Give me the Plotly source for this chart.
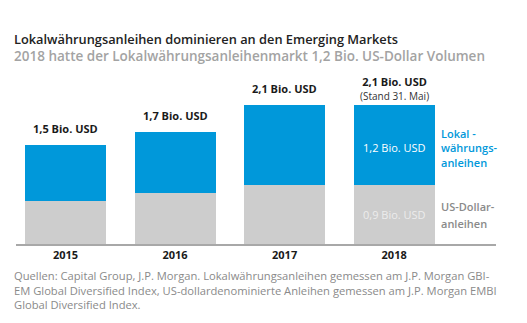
import plotly.graph_objects as go

years = ["2015", "2016", "2017", "2018"]
usd_bonds = [0.65, 0.78, 0.90, 0.90]
local_bonds = [0.85, 0.92, 1.20, 1.20]
total_labels = ["1,5 Bio. USD", "1,7 Bio. USD", "2,1 Bio. USD", "2,1 Bio. USD"]
last_note = "(Stand 31. Mai)"
local_inside_label = "1,2 Bio. USD"
usd_inside_label = "0,9 Bio. USD"
local_legend = ["Lokal -", "währungs-", "anleihen"]
usd_legend = ["US-Dollar-", "anleihen"]

BLUE = "#0098da"
GREY = "#cdcdcd"
FONT = "Open Sans"

W, H = 527, 323
L, R, T, B = 16, 31, 79, 79
pw, ph = W - L - R, H - T - B


def px(x):
    return (x - L) / pw


def py(y):
    return (H - B - y) / ph


xs = list(range(len(years)))
fig = go.Figure()
fig.add_trace(go.Bar(x=xs, y=usd_bonds, marker_color=GREY, width=0.74, marker_line_width=0,
                     hoverinfo="skip"))
fig.add_trace(go.Bar(x=xs, y=local_bonds, marker_color=BLUE, width=0.74, marker_line_width=0,
                     hoverinfo="skip"))

ann = []
# totals above bars
for i, lab in enumerate(total_labels):
    tot = usd_bonds[i] + local_bonds[i]
    txt = "<b>" + lab + "</b>"
    if i == len(total_labels) - 1:
        txt += "<br><span style='font-size:10px;color:#333333'>" + last_note + "</span>"
    ann.append(dict(x=i, y=tot, xref="x", yref="y", text=txt, showarrow=False,
                    yanchor="bottom", yshift=(0 if i == 3 else 7),
                    font=dict(family=FONT, size=11, color="#1a1a1a")))
# inside labels for last bar
ann.append(dict(x=3, y=usd_bonds[3] + local_bonds[3] / 2, xref="x", yref="y", text=local_inside_label,
                showarrow=False, yshift=-2, font=dict(family=FONT, size=11, color="white")))
ann.append(dict(x=3, y=usd_bonds[3] / 2, xref="x", yref="y", text=usd_inside_label,
                showarrow=False, font=dict(family=FONT, size=11, color="#ececec")))
# side legend labels
ann.append(dict(x=px(439), y=py(148), xref="paper", yref="paper", xanchor="left", align="left",
                yanchor="middle", text="<br>".join(local_legend), showarrow=False,
                font=dict(family=FONT, size=11, color=BLUE, weight=600)))
for j, t in enumerate(usd_legend):
    ann.append(dict(x=px(439), y=py(206 + 17 * j), xref="paper", yref="paper", xanchor="left",
                    yanchor="middle", text=t, showarrow=False,
                    font=dict(family=FONT, size=11, color="#8a8a8a", weight=600)))
# titles
ann.append(dict(x=px(12), y=py(39), xref="paper", yref="paper", xanchor="left", yanchor="middle",
                text="Lokalwährungsanleihen dominieren an den Emerging Markets", showarrow=False,
                font=dict(family=FONT, size=12.8, color="#222222", weight=600)))
ann.append(dict(x=px(12), y=py(56), xref="paper", yref="paper", xanchor="left", yanchor="middle",
                text="2018 hatte der Lokalwährungsanleihenmarkt 1,2 Bio. US-Dollar Volumen", showarrow=False,
                font=dict(family=FONT, size=13.5, color="#a3a3a3", weight=600)))
# footer
ann.append(dict(x=px(12), y=py(266), xref="paper", yref="paper", xanchor="left", yanchor="top",
                align="left", showarrow=False,
                text="Quellen: Capital Group, J.P. Morgan. Lokalwährungsanleihen gemessen am J.P. Morgan GBI-<br>"
                     "EM Global Diversified Index, US-dollardenominierte Anleihen gemessen am J.P. Morgan EMBI<br>"
                     "Global Diversified Index.",
                font=dict(family=FONT, size=11.2, color="#8a8a8a")))

fig.update_layout(
    width=W, height=H, margin=dict(l=L, r=R, t=T, b=B),
    barmode="stack", showlegend=False,
    plot_bgcolor="white", paper_bgcolor="white",
    annotations=ann,
    xaxis=dict(range=[-0.452, 3.93], tickvals=xs, ticktext=["<b>" + y + "</b>" for y in years],
               showgrid=False, zeroline=False, showline=True, linecolor="#a8a8a8", linewidth=1.5,
               ticks="", tickfont=dict(family=FONT, size=11, color="#1a1a1a"), fixedrange=True),
    yaxis=dict(range=[0, 2.5], visible=False, fixedrange=True),
)
fig.write_html("out.html")
